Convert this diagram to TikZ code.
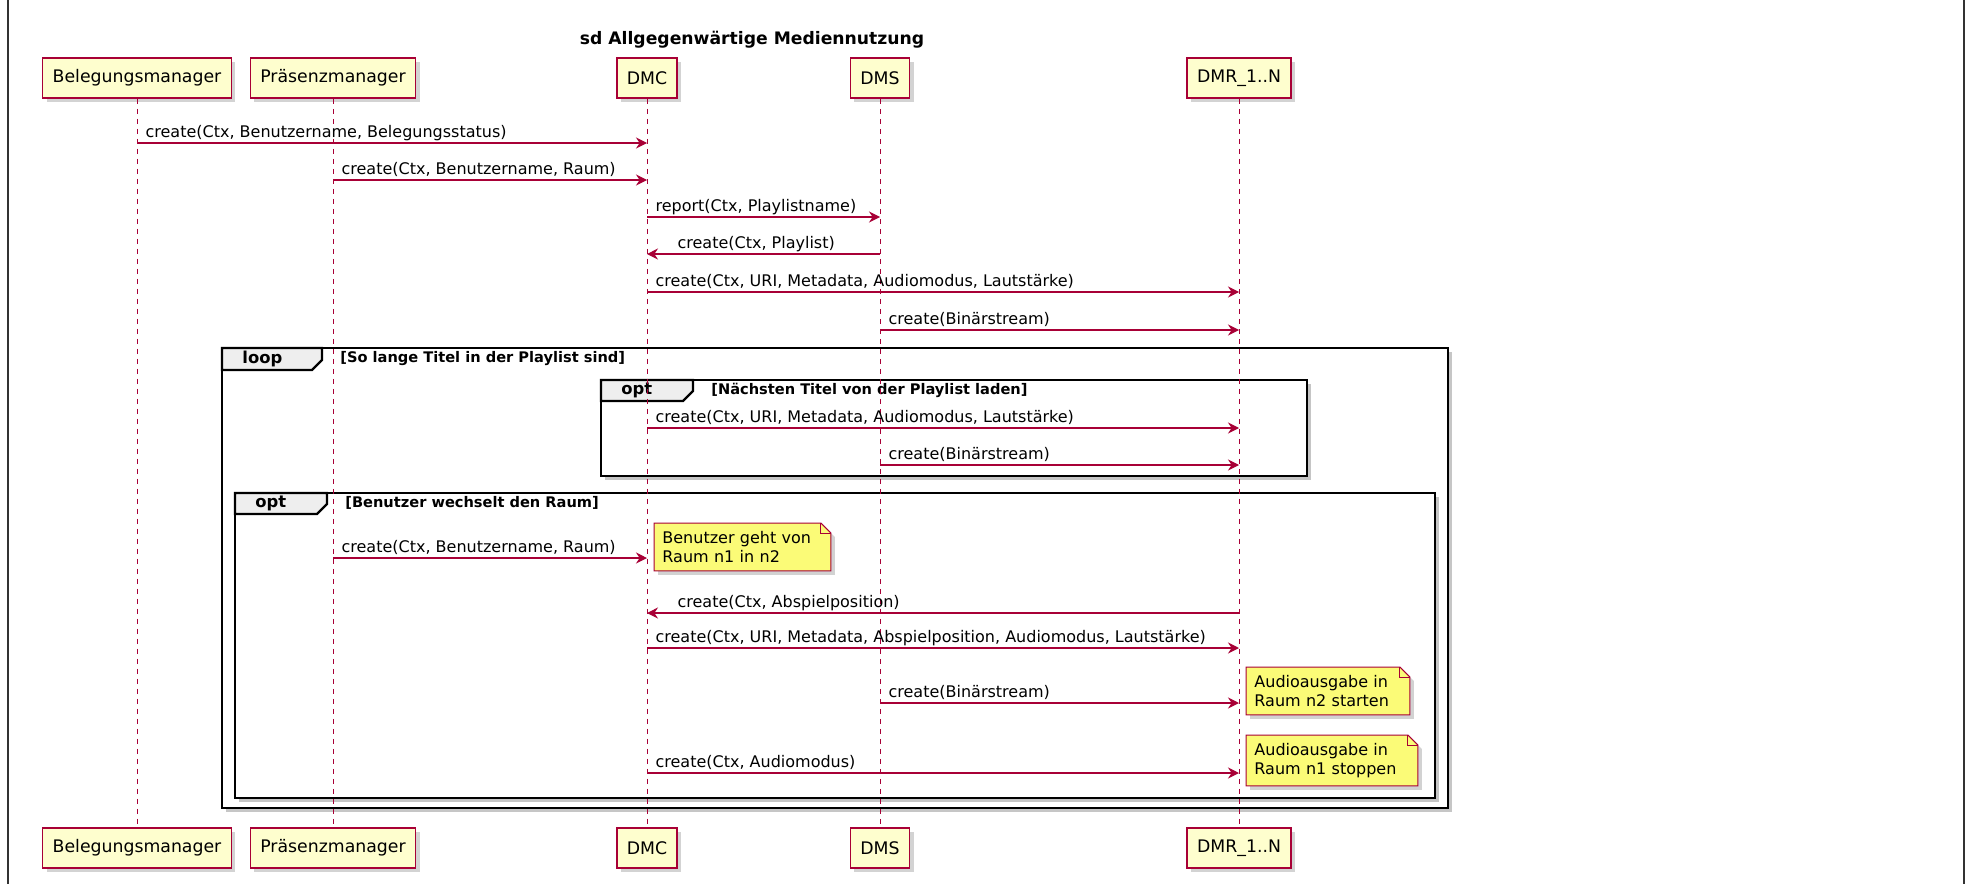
\documentclass[tikz,border=0pt]{standalone}
\usepackage{fontspec}
\setmainfont{DejaVu Sans}
\usetikzlibrary{arrows.meta,shadows,positioning}

\definecolor{umlred}{HTML}{A80036}
\definecolor{partfill}{HTML}{FEFECE}
\definecolor{notefill}{HTML}{FBFB77}
\definecolor{tabfill}{HTML}{EEEEEE}

\pgfdeclarelayer{back}
\pgfsetlayers{back,main}

% note with folded corner: name, north west corner, text width, text
\newcommand{\umlnote}[4]{%
  \node[note, text width=#3] (#1) at (#2) {#4};
  \begin{pgfonlayer}{back}
    \draw[notebox] (#1.north west) -- ([xshift=-5pt]#1.north east) -- ([yshift=-5pt]#1.north east)
      -- (#1.south east) -- (#1.south west) -- cycle;
    \draw[umlred, line width=0.5pt] ([xshift=-5pt]#1.north east) |- ([yshift=-5pt]#1.north east);
  \end{pgfonlayer}}

\begin{document}
\begin{tikzpicture}[
    x=0.5pt, y=-0.5pt,
    part/.style={rectangle, draw=umlred, line width=0.8pt, fill=partfill, minimum height=20pt, inner xsep=5pt,
        font=\fontsize{8.65pt}{10pt}\selectfont, drop shadow={shadow xshift=2pt, shadow yshift=-2pt, opacity=0.35}},
    life/.style={umlred, line width=0.5pt, dash pattern=on 2.5pt off 2.5pt},
    msg/.style={umlred, line width=0.6pt, -{Stealth[length=5.5pt, width=5.5pt, inset=1.8pt]}},
    lbl/.style={black, anchor=base west, inner sep=0pt, pos=0, xshift=4pt, yshift=3pt, font=\fontsize{8pt}{9.3pt}\selectfont},
    lblback/.style={lbl, pos=1, xshift=11pt},
    frame/.style={draw=black, line width=1.3pt, fill=white, drop shadow={shadow xshift=2pt, shadow yshift=-2pt, opacity=0.45}},
    tab/.style={draw=black, line width=1.2pt, fill=tabfill},
    kind/.style={anchor=west, inner sep=0pt, font=\bfseries\fontsize{8.2pt}{10pt}\selectfont},
    guard/.style={anchor=west, inner sep=0pt, font=\bfseries\fontsize{7.3pt}{9pt}\selectfont},
    note/.style={anchor=north west, align=left, inner xsep=4pt, inner ysep=4pt, font=\fontsize{8pt}{9.3pt}\selectfont},
    notebox/.style={draw=umlred, line width=0.5pt, fill=notefill, drop shadow={shadow xshift=2pt, shadow yshift=-2pt, opacity=0.35}}
]
\useasboundingbox (0,0) rectangle (1968,884);

% page edges
\draw[black!80, line width=1pt] (8,0) -- (8,884);
\draw[black!80, line width=1pt] (1964,0) -- (1964,884);

% title
\node[font=\bfseries\fontsize{8.6pt}{10pt}\selectfont] (title) at (752,40) {sd Allgegenwärtige Mediennutzung};

% participants
\node[part] (bel) at (137,78) {Belegungsmanager};
\node[part] (pra) at (333,78) {Präsenzmanager};
\node[part] (dmc) at (647,78) {DMC};
\node[part] (dms) at (880,78) {DMS};
\node[part] (dmr) at (1239,78) {DMR\_1..N};

\node[part] (belb) at (137,848) {Belegungsmanager};
\node[part] (prab) at (333,848) {Präsenzmanager};
\node[part] (dmcb) at (647,848) {DMC};
\node[part] (dmsb) at (880,848) {DMS};
\node[part] (dmrb) at (1239,848) {DMR\_1..N};

% fragments
\begin{pgfonlayer}{back}
\draw[frame] (222,348) rectangle (1448,808);
\draw[tab] (222,348) -- (322,348) -- (322,360) -- (312,370) -- (222,370) -- cycle;
\draw[frame] (601,380) rectangle (1307,476);
\draw[tab] (601,380) -- (693,380) -- (693,391) -- (683,401) -- (601,401) -- cycle;
\draw[frame] (235,493) rectangle (1435,798);
\draw[tab] (235,493) -- (327,493) -- (327,504) -- (317,514) -- (235,514) -- cycle;
\end{pgfonlayer}
\node[kind] (loopkind) at (242,359) {loop};
\node[guard] (loopguard) at (340,359) {[So lange Titel in der Playlist sind]};
\node[kind] (optakind) at (621,390) {opt};
\node[guard] (optaguard) at (711,390) {[Nächsten Titel von der Playlist laden]};
\node[kind] (optbkind) at (255,503) {opt};
\node[guard] (optbguard) at (345,503) {[Benutzer wechselt den Raum]};

% lifelines
\foreach \p in {bel, pra, dmc, dms, dmr}
    \draw[life] (\p.south) -- (\p b.north);

% message rows
\foreach \n/\y in {1/143, 2/180, 3/217, 4/254, 5/292, 6/330, 7/428, 8/465, 9/558, 10/613, 11/648, 12/703, 13/773}
    \coordinate (r\n) at (0,\y);

% messages
\draw[msg] (bel |- r1) -- (dmc |- r1) node[lbl] {create(Ctx, Benutzername, Belegungsstatus)};
\draw[msg] (pra |- r2) -- (dmc |- r2) node[lbl] {create(Ctx, Benutzername, Raum)};
\draw[msg] (dmc |- r3) -- (dms |- r3) node[lbl] {report(Ctx, Playlistname)};
\draw[msg] (dms |- r4) -- (dmc |- r4) node[lblback] {create(Ctx, Playlist)};
\draw[msg] (dmc |- r5) -- (dmr |- r5) node[lbl] {create(Ctx, URI, Metadata, Audiomodus, Lautstärke)};
\draw[msg] (dms |- r6) -- (dmr |- r6) node[lbl] {create(Binärstream)};
\draw[msg] (dmc |- r7) -- (dmr |- r7) node[lbl] {create(Ctx, URI, Metadata, Audiomodus, Lautstärke)};
\draw[msg] (dms |- r8) -- (dmr |- r8) node[lbl] {create(Binärstream)};
\draw[msg] (pra |- r9) -- (dmc |- r9) node[lbl] {create(Ctx, Benutzername, Raum)};
\draw[msg] (dmr |- r10) -- (dmc |- r10) node[lblback] {create(Ctx, Abspielposition)};
\draw[msg] (dmc |- r11) -- (dmr |- r11) node[lbl] {create(Ctx, URI, Metadata, Abspielposition, Audiomodus, Lautstärke)};
\draw[msg] (dms |- r12) -- (dmr |- r12) node[lbl] {create(Binärstream)};
\draw[msg] (dmc |- r13) -- (dmr |- r13) node[lbl] {create(Ctx, Audiomodus)};

% notes
\umlnote{noteraum}{654,523}{80pt}{Benutzer geht von\\Raum n1 in n2}
\umlnote{notestart}{1246,667}{73.5pt}{Audioausgabe in\\Raum n2 starten}
\umlnote{notestop}{1246,735}{77.5pt}{Audioausgabe in\\Raum n1 stoppen}

\end{tikzpicture}
\end{document}
